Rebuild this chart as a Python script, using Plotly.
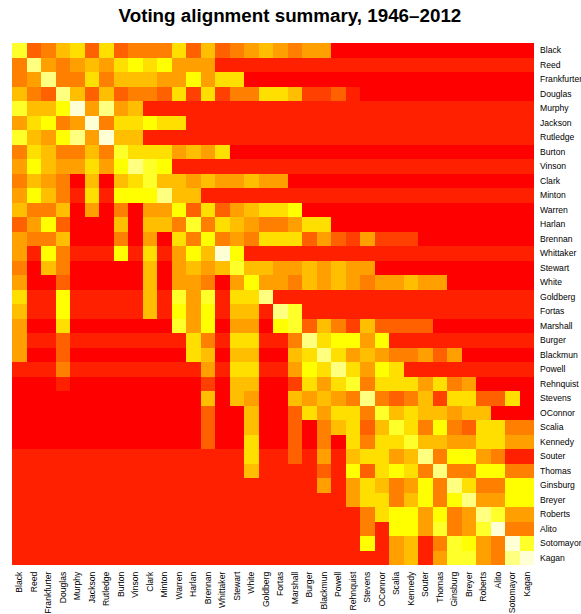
import plotly.graph_objects as go

justices = ["Black", "Reed", "Frankfurter", "Douglas", "Murphy", "Jackson", "Rutledge",
            "Burton", "Vinson", "Clark", "Minton", "Warren", "Harlan", "Brennan",
            "Whittaker", "Stewart", "White", "Goldberg", "Fortas", "Marshall", "Burger",
            "Blackmun", "Powell", "Rehnquist", "Stevens", "OConnor", "Scalia", "Kennedy",
            "Souter", "Thomas", "Ginsburg", "Breyer", "Roberts", "Alito", "Sotomayor", "Kagan"]

# heat.colors(12): level index 0 (red) .. 11 (cream)
heat_colors = ["#FF0000", "#FF2000", "#FF4000", "#FF6000", "#FF8000", "#FF9F00",
               "#FFBF00", "#FFDF00", "#FFFF00", "#FFFF2A", "#FFFF80", "#FFFFD5"]

# alignment level (0-11) of each row justice with each column justice
black       = [9,3,4,6,7,3,7,3,4,4,4,7, 3,6,3,4,5,6,5,4,5,5,0,0, 0,0,0,0,0,0,0,0,0,0,0,0]
reed        = [4,10,5,4,5,6,5,7,8,7,8,5, 5,5,1,1,1,1,1,1,1,1,1,1, 1,1,1,1,1,1,1,1,1,1,1,1]
frankfurter = [4,5,10,4,4,7,4,6,6,6,5,5, 8,5,7,7,0,0,0,0,0,0,0,0, 0,0,0,0,0,0,0,0,0,0,0,0]
douglas     = [6,4,3,10,6,3,6,3,4,4,3,7, 2,7,2,4,4,7,7,6,2,2,3,1, 0,0,0,0,0,0,0,0,0,0,0,0]
murphy      = [9,6,6,8,11,5,10,5,6,1,1,1, 1,1,1,1,1,1,1,1,1,1,1,1, 1,1,1,1,1,1,1,1,1,1,1,1]
jackson     = [5,7,8,4,5,11,4,7,7,8,7,7, 1,1,1,1,1,1,1,1,1,1,1,1, 1,1,1,1,1,1,1,1,1,1,1,1]
rutledge    = [9,6,5,8,10,5,11,6,6,1,1,1, 1,1,1,1,1,1,1,1,1,1,1,1, 1,1,1,1,1,1,1,1,1,1,1,1]
burton      = [4,7,6,4,4,6,4,9,7,7,7,5, 6,5,7,0,0,0,0,0,0,0,0,0, 0,0,0,0,0,0,0,0,0,0,0,0]
vinson      = [5,8,6,5,5,7,5,8,10,9,8,1, 1,1,1,1,1,1,1,1,1,1,1,1, 1,1,1,1,1,1,1,1,1,1,1,1]
clark       = [4,6,5,4,0,6,0,6,7,9,6,6, 5,6,5,5,6,5,5,0,0,0,0,0, 0,0,0,0,0,0,0,0,0,0,0,0]
minton      = [5,8,6,4,1,7,1,8,8,8,10,6, 6,1,1,1,1,1,1,1,1,1,1,1, 1,1,1,1,1,1,1,1,1,1,1,1]
warren      = [6,4,4,6,0,5,0,4,0,5,5,8, 3,7,3,5,6,7,7,8,0,0,0,0, 0,0,0,0,0,0,0,0,0,0,0,0]
harlan      = [3,5,8,3,0,0,0,6,0,6,6,4, 9,4,7,6,5,4,4,5,7,7,0,0, 0,0,0,0,0,0,0,0,0,0,0,0]
brennan     = [5,4,4,6,0,0,0,4,0,5,0,7, 4,8,4,5,4,7,7,7,3,5,3,2, 5,2,2,2,0,0,0,0,0,0,0,0]
whittaker   = [5,1,8,4,1,1,1,8,1,7,1,5, 8,6,11,8,1,1,1,1,1,1,1,1, 1,1,1,1,1,1,1,1,1,1,1,1]
stewart     = [4,0,6,4,0,0,0,0,0,6,0,5, 6,5,6,9,6,6,5,5,6,5,6,5, 5,0,0,0,0,0,0,0,0,0,0,0]
white       = [5,0,0,3,0,0,0,0,0,6,0,5, 5,4,0,5,8,5,5,4,6,5,6,5, 4,5,5,6,5,5,0,0,0,0,0,0]
goldberg    = [7,1,1,8,1,1,1,1,1,6,1,9, 5,9,1,7,7,10,1,1,1,1,1,1, 1,1,1,1,1,1,1,1,1,1,1,1]
fortas      = [6,1,1,8,1,1,1,1,1,6,1,8, 5,8,1,6,6,1,10,9,1,1,1,1, 1,1,1,1,1,1,1,1,1,1,1,1]
marshall    = [5,0,0,7,0,0,0,0,0,0,0,9, 5,8,0,5,5,0,8,9,3,6,4,2, 6,3,3,3,3,0,0,0,0,0,0,0]
burger      = [5,1,1,3,1,1,1,1,1,1,1,1, 7,4,1,7,7,1,1,4,10,7,8,8, 5,8,1,1,1,1,1,1,1,1,1,1]
blackmun    = [5,0,0,3,0,0,0,0,0,0,0,0, 7,6,0,6,6,0,0,6,7,10,7,5, 6,5,4,4,5,3,5,0,0,0,0,0]
powell      = [1,1,1,4,1,1,1,1,1,1,1,1, 1,5,1,7,7,1,1,5,8,7,10,7, 5,8,7,1,1,1,1,1,1,1,1,1]
rehnquist   = [0,0,0,1,0,0,0,0,0,0,0,0, 0,2,0,6,6,0,0,2,7,5,7,9, 4,7,7,7,5,7,4,5,0,0,0,0]
stevens     = [0,0,0,0,0,0,0,0,0,0,0,0, 0,6,0,6,5,0,0,6,5,6,5,4, 10,4,3,4,6,2,7,7,3,3,7,0]
oconnor     = [0,0,0,0,0,0,0,0,0,0,0,0, 0,3,0,0,6,0,0,3,7,5,7,7, 4,9,6,7,6,6,5,6,6,0,0,0]
scalia      = [0,0,0,0,0,0,0,0,0,0,0,0, 0,3,0,0,6,0,0,3,0,4,6,7, 3,6,9,7,4,8,4,3,7,7,4,4]
kennedy     = [0,0,0,0,0,0,0,0,0,0,0,0, 0,3,0,0,7,0,0,3,0,4,0,7, 4,7,7,9,6,6,5,5,7,7,5,5]
souter      = [1,1,1,1,1,1,1,1,1,1,1,1, 1,1,1,1,7,1,1,3,1,5,1,6, 7,7,5,6,10,4,8,8,5,4,1,1]
thomas      = [1,1,1,1,1,1,1,1,1,1,1,1, 1,1,1,1,6,1,1,1,1,3,1,8, 3,7,8,7,4,10,4,4,8,8,4,4]
ginsburg    = [1,1,1,1,1,1,1,1,1,1,1,1, 1,1,1,1,1,1,1,1,1,5,1,5, 7,6,4,5,8,4,10,7,4,4,8,8]
breyer      = [1,1,1,1,1,1,1,1,1,1,1,1, 1,1,1,1,1,1,1,1,1,1,1,5, 7,7,4,6,8,4,8,10,5,5,8,8]
roberts     = [1,1,1,1,1,1,1,1,1,1,1,1, 1,1,1,1,1,1,1,1,1,1,1,1, 4,7,8,8,5,8,4,5,10,9,5,5]
alito       = [1,1,1,1,1,1,1,1,1,1,1,1, 1,1,1,1,1,1,1,1,1,1,1,1, 4,1,8,8,5,9,4,5,9,11,4,4]
sotomayor   = [1,1,1,1,1,1,1,1,1,1,1,1, 1,1,1,1,1,1,1,1,1,1,1,1, 8,1,5,6,1,4,9,8,5,4,11,9]
kagan       = [1,1,1,1,1,1,1,1,1,1,1,1, 1,1,1,1,1,1,1,1,1,1,1,1, 1,1,5,6,1,5,9,9,5,4,10,11]

z = [black, reed, frankfurter, douglas, murphy, jackson, rutledge, burton, vinson, clark,
     minton, warren, harlan, brennan, whittaker, stewart, white, goldberg, fortas, marshall,
     burger, blackmun, powell, rehnquist, stevens, oconnor, scalia, kennedy, souter, thomas,
     ginsburg, breyer, roberts, alito, sotomayor, kagan]

n = len(heat_colors)
colorscale = []
for i, c in enumerate(heat_colors):
    colorscale.append([i / n, c])
    colorscale.append([(i + 1) / n, c])

fig = go.Figure(go.Heatmap(
    z=z, x=justices, y=justices,
    colorscale=colorscale, zmin=-0.5, zmax=n - 0.5,
    showscale=False, xgap=0, ygap=0,
))

font_family = "Liberation Sans, Arial, Helvetica, sans-serif"
fig.update_layout(
    width=581, height=614,
    margin=dict(l=12, r=47, t=43, b=49, autoexpand=False),
    paper_bgcolor="white", plot_bgcolor="white",
    title=dict(text="<b>Voting alignment summary, 1946\u20132012</b>",
               x=0.499, xanchor="center", y=0.9756, yanchor="middle",
               font=dict(family=font_family, size=18.8, color="black")),
    font=dict(family=font_family, color="black"),
)
fig.update_xaxes(tickangle=-90, ticks="", showgrid=False, zeroline=False, automargin=False,
                 tickfont=dict(size=8.6, family=font_family), ticklabelstandoff=4)
fig.update_yaxes(autorange="reversed", side="right", ticks="", showgrid=False,
                 zeroline=False, automargin=False,
                 tickfont=dict(size=8.6, family=font_family), ticklabelstandoff=5)

fig.write_html(
    "out.html",
    config={"displayModeBar": False},
    post_script="document.body.style.margin='0';document.body.style.overflow='hidden';",
)
